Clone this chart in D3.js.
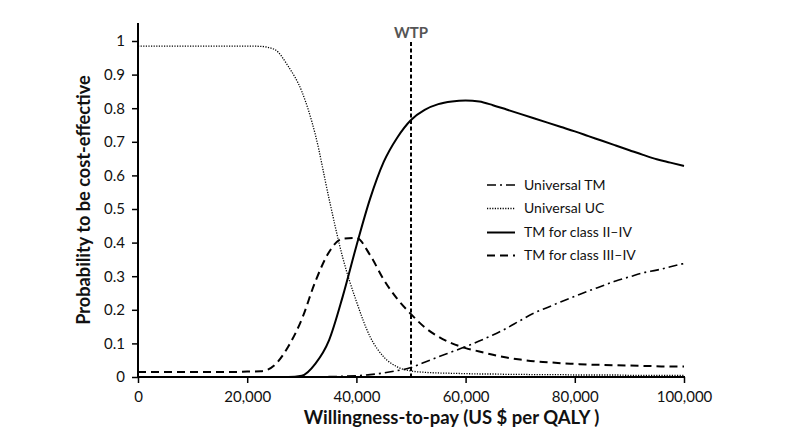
<!DOCTYPE html>
<html><head><meta charset="utf-8">
<script src="https://cdn.jsdelivr.net/npm/d3@7"></script>
<style>body{margin:0;background:#fff}svg{display:block}text{font-family:Lato,"Open Sans",sans-serif}</style>
</head><body><svg id="c" width="800" height="433"></svg>
<script>
const wtp = d3.range(0, 100001, 2500);
const universalTM = [0,0,0,0,0,0,0,0,0,0,0,0,0,0,0.001,0.002,0.004,0.007,0.012,0.019,0.028,0.044,0.06,0.075,0.09,0.107,0.125,0.145,0.168,0.19,0.207,0.224,0.24,0.256,0.271,0.286,0.298,0.31,0.318,0.328,0.338];
const universalUC = [0.985,0.985,0.985,0.985,0.985,0.985,0.985,0.985,0.985,0.984,0.975,0.925,0.85,0.72,0.53,0.355,0.225,0.12,0.06,0.03,0.018,0.014,0.012,0.011,0.01,0.009,0.009,0.008,0.008,0.007,0.007,0.007,0.006,0.006,0.006,0.006,0.005,0.005,0.005,0.005,0.005];
const tmClassIIIV = [0,0,0,0,0,0,0,0,0,0,0,0,0.004,0.04,0.11,0.24,0.39,0.53,0.64,0.713,0.765,0.795,0.812,0.82,0.823,0.82,0.809,0.796,0.783,0.77,0.757,0.744,0.731,0.717,0.703,0.689,0.675,0.661,0.648,0.638,0.628];
const tmClassIIIIV = [0.015,0.015,0.015,0.015,0.015,0.015,0.015,0.015,0.016,0.017,0.035,0.09,0.172,0.285,0.372,0.412,0.414,0.363,0.29,0.232,0.187,0.148,0.12,0.1,0.086,0.076,0.066,0.058,0.052,0.047,0.044,0.041,0.039,0.037,0.036,0.035,0.034,0.033,0.032,0.031,0.031];
const xTicks = [0,20000,40000,60000,80000,100000];
const yTicks = [0,0.1,0.2,0.3,0.4,0.5,0.6,0.7,0.8,0.9,1];
const wtpThreshold = 50000;
const series = [
  {name:"Universal TM", values: universalTM, dash:"9,4,2,4", w:1.6},
  {name:"Universal UC", values: universalUC, dash:"1.2,1.4", w:1.3},
  {name:"TM for class II\u2013IV", values: tmClassIIIV, dash:null, w:2},
  {name:"TM for class III\u2013IV", values: tmClassIIIIV, dash:"8,5", w:2}
];

const svg = d3.select("#c");
const x = d3.scaleLinear().domain([0,100000]).range([138,684]);
const y = d3.scaleLinear().domain([0,1]).range([377,41]);

const xa = svg.append("g").attr("transform","translate(0,377)")
  .call(d3.axisBottom(x).tickValues(xTicks).tickFormat(d3.format(",")).tickSizeInner(6).tickSizeOuter(0).tickPadding(8));
const ya = svg.append("g").attr("transform","translate(138,0)")
  .call(d3.axisLeft(y).tickValues(yTicks).tickFormat(d=>d===0?"0":d===1?"1":d3.format(".1f")(d)).tickSizeInner(6).tickSizeOuter(0).tickPadding(7));
[xa,ya].forEach(a=>{
  a.selectAll("path.domain").remove();
  a.selectAll(".tick line").attr("stroke","#000").attr("stroke-width",1.5);
  a.selectAll("text").attr("font-size",15).attr("fill","#111");
});
svg.append("line").attr("x1",138).attr("x2",138).attr("y1",23).attr("y2",377).attr("stroke","#000").attr("stroke-width",2);
svg.append("line").attr("x1",138).attr("x2",685).attr("y1",377).attr("y2",377).attr("stroke","#000").attr("stroke-width",2);

const line = d3.line().x((d,i)=>x(wtp[i])).y(d=>y(d)).curve(d3.curveMonotoneX);
series.forEach(s=>{
  svg.append("path").datum(s.values).attr("d",line).attr("fill","none")
    .attr("stroke","#000").attr("stroke-width",s.w).attr("stroke-dasharray",s.dash);
});

svg.append("line").attr("x1",x(wtpThreshold)).attr("x2",x(wtpThreshold)).attr("y1",42).attr("y2",377)
  .attr("stroke","#000").attr("stroke-width",2).attr("stroke-dasharray","4,2.5");
svg.append("text").attr("x",x(wtpThreshold)).attr("y",38).attr("text-anchor","middle")
  .attr("font-size",15).attr("font-weight","bold").attr("fill","#555").text("WTP");

const ly = [185,208.5,232.5,255.5];
series.forEach((s,i)=>{
  svg.append("line").attr("x1",487).attr("x2",515).attr("y1",ly[i]).attr("y2",ly[i])
    .attr("stroke","#000").attr("stroke-width",s.w).attr("stroke-dasharray",s.dash);
  svg.append("text").attr("x",524).attr("y",ly[i]).attr("dy","0.35em").attr("font-size",14).attr("fill","#111").text(s.name);
});

svg.append("text").attr("x",451.5).attr("y",424).attr("text-anchor","middle").attr("font-size",18.5).attr("font-weight","bold")
  .attr("fill","#111").text("Willingness-to-pay (US $ per QALY )");
svg.append("text").attr("transform","translate(90,200) rotate(-90)").attr("text-anchor","middle").attr("font-size",18.2)
  .attr("font-weight","bold").attr("fill","#111").text("Probability to be cost-effective");
</script></body></html>
